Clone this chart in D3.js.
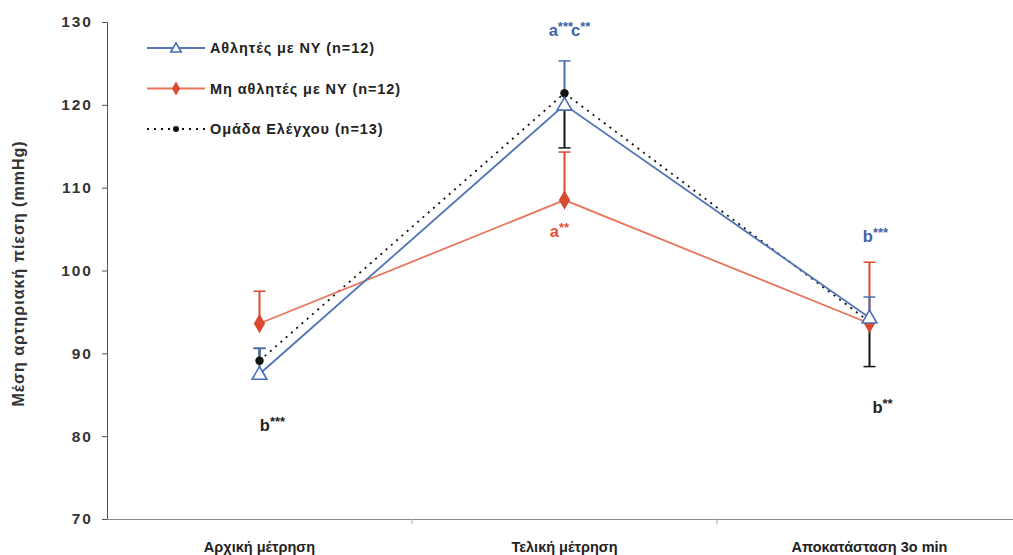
<!DOCTYPE html>
<meta charset="utf-8">
<style>
  body { margin: 0; background: #fff; }
  text { font-family: "Liberation Sans", Arial, sans-serif; font-weight: bold; }
</style>
<body>
<script src="https://d3js.org/d3.v7.min.js"></script>
<script>
  // time points
  const categories = ["Αρχική μέτρηση", "Τελική μέτρηση", "Αποκατάσταση 3ο min"];
  const yTicks = [70, 80, 90, 100, 110, 120, 130];

  // means per group
  const athletes = [87.5, 120.0, 94.3];
  const nonAthletes = [93.6, 108.5, 93.6];
  const control = [89.1, 121.4, 93.8];

  // end of each error bar
  const athletesErr = [90.6, 125.3, 96.8];
  const nonAthletesErr = [97.5, 114.3, 101.0];
  const controlErr = [90.6, 114.8, 88.4];

  const legendNames = ["Αθλητές με ΝΥ (n=12)", "Μη αθλητές με ΝΥ (n=12)", "Ομάδα Ελέγχου (n=13)"];

  const W = 1013, H = 555;
  const margin = { top: 22, left: 107, bottom: 36 };
  const plotBottom = H - margin.bottom;

  const svg = d3.select("body").append("svg").attr("width", W).attr("height", H);

  const x = d3.scaleBand().domain(categories).range([margin.left, margin.left + 915]);
  const y = d3.scaleLinear().domain([70, 130]).range([plotBottom, margin.top]);
  const cx = d => x(d) + x.bandwidth() / 2;

  // y axis
  const yAxis = svg.append("g")
    .attr("transform", `translate(${margin.left},0)`)
    .call(d3.axisLeft(y).tickValues(yTicks).tickSize(5).tickPadding(9));
  yAxis.select(".domain").attr("stroke", "#555");
  yAxis.selectAll(".tick line").attr("stroke", "#555");
  yAxis.selectAll("text").attr("font-size", 15.5).attr("fill", "#333")
    .style("letter-spacing", "2px");

  // x axis
  const xAxis = svg.append("g")
    .attr("transform", `translate(0,${plotBottom})`)
    .call(d3.axisBottom(x).tickSize(0).tickPadding(23));
  xAxis.select(".domain").attr("stroke", "#888");
  xAxis.selectAll("text").attr("font-size", 14.5).attr("fill", "#222")
    .attr("font-family", "'DejaVu Sans Condensed', 'Liberation Sans Narrow', sans-serif");
  svg.selectAll(".sep").data(categories.slice(1)).join("line")
    .attr("x1", d => x(d)).attr("x2", d => x(d))
    .attr("y1", plotBottom).attr("y2", plotBottom + 5)
    .attr("stroke", "#aaa");

  svg.append("text")
    .attr("transform", `translate(24,${(margin.top + plotBottom) / 2 + 3}) rotate(-90)`)
    .attr("text-anchor", "middle").attr("font-size", 16).attr("fill", "#333")
    .style("letter-spacing", "1px")
    .text("Μέση αρτηριακή πίεση (mmHg)");

  const series = [
    { vals: control, err: controlErr, color: "#111", line: "#111", dash: "2,5", marker: "circle" },
    { vals: nonAthletes, err: nonAthletesErr, color: "#d94a30", line: "#e8765c", dash: null, marker: "diamond" },
    { vals: athletes, err: athletesErr, color: "#4b6fb3", line: "#5273b5", dash: null, marker: "triangle" }
  ];

  const line = d3.line().x((d, i) => cx(categories[i])).y(d => y(d));

  function drawMarker(g, type, px, py, color, k) {
    if (type === "circle") {
      g.append("circle").attr("cx", px).attr("cy", py).attr("r", 4.2 * Math.sqrt(k)).attr("fill", color);
    } else if (type === "diamond") {
      g.append("path").attr("d", d3.symbol(d3.symbolDiamond, 110 * k)())
        .attr("transform", `translate(${px},${py})`).attr("fill", color);
    } else {
      g.append("path").attr("d", d3.symbol(d3.symbolTriangle, 95 * k)())
        .attr("transform", `translate(${px},${py + 1})`)
        .attr("fill", "#fff").attr("stroke", color).attr("stroke-width", 1.6);
    }
  }

  // error bars first
  series.forEach(s => {
    s.vals.forEach((v, i) => {
      const px = cx(categories[i]);
      svg.append("line").attr("x1", px).attr("x2", px)
        .attr("y1", y(v)).attr("y2", y(s.err[i]))
        .attr("stroke", s.color).attr("stroke-width", 2);
      svg.append("line").attr("x1", px - 6).attr("x2", px + 6)
        .attr("y1", y(s.err[i])).attr("y2", y(s.err[i]))
        .attr("stroke", s.color).attr("stroke-width", 1.5);
    });
  });

  series.forEach(s => {
    svg.append("path").datum(s.vals).attr("d", line)
      .attr("fill", "none").attr("stroke", s.line).attr("stroke-width", 1.8)
      .attr("stroke-dasharray", s.dash);
  });

  series.forEach(s => {
    const g = svg.append("g");
    s.vals.forEach((v, i) => drawMarker(g, s.marker, cx(categories[i]), y(v), s.color, 1));
  });

  // significance labels
  const notes = [
    { cat: 0, v: 80.6, dx: 13, text: [["b", "***"]], color: "#222" },
    { cat: 1, v: 128.3, dx: 5, text: [["a", "***"], ["c", "**"]], color: "#3f63a8" },
    { cat: 1, v: 104.1, dx: -5, text: [["a", "**"]], color: "#e0553a" },
    { cat: 2, v: 103.4, dx: 6, text: [["b", "***"]], color: "#3f63a8" },
    { cat: 2, v: 82.8, dx: 13, text: [["b", "**"]], color: "#222" }
  ];
  notes.forEach(n => {
    const t = svg.append("text").attr("x", cx(categories[n.cat]) + n.dx).attr("y", y(n.v))
      .attr("text-anchor", "middle").attr("font-size", 16.5).attr("fill", n.color);
    n.text.forEach((p, j) => {
      t.append("tspan").attr("dy", j ? 5 : 0).attr("dx", j ? -2 : 0).text(p[0]);
      t.append("tspan").attr("dy", -5).attr("font-size", 13).text(p[1]);
    });
  });

  // legend
  const legend = svg.append("g").attr("transform", "translate(147,48)");
  [2, 1, 0].forEach((si, row) => {
    const s = series[si];
    const g = legend.append("g").attr("transform", `translate(0,${row * 40.5})`);
    g.append("line").attr("x1", 0).attr("x2", 58).attr("y1", 0).attr("y2", 0)
      .attr("stroke", s.line).attr("stroke-width", 1.8).attr("stroke-dasharray", s.dash);
    drawMarker(g, s.marker, 29, 0, s.color, 0.5);
    g.append("text").attr("x", 63).attr("y", 5).attr("font-size", 14.5).attr("fill", "#222")
      .style("letter-spacing", "0.9px")
      .text(legendNames[row]);
  });
</script>
</body>
